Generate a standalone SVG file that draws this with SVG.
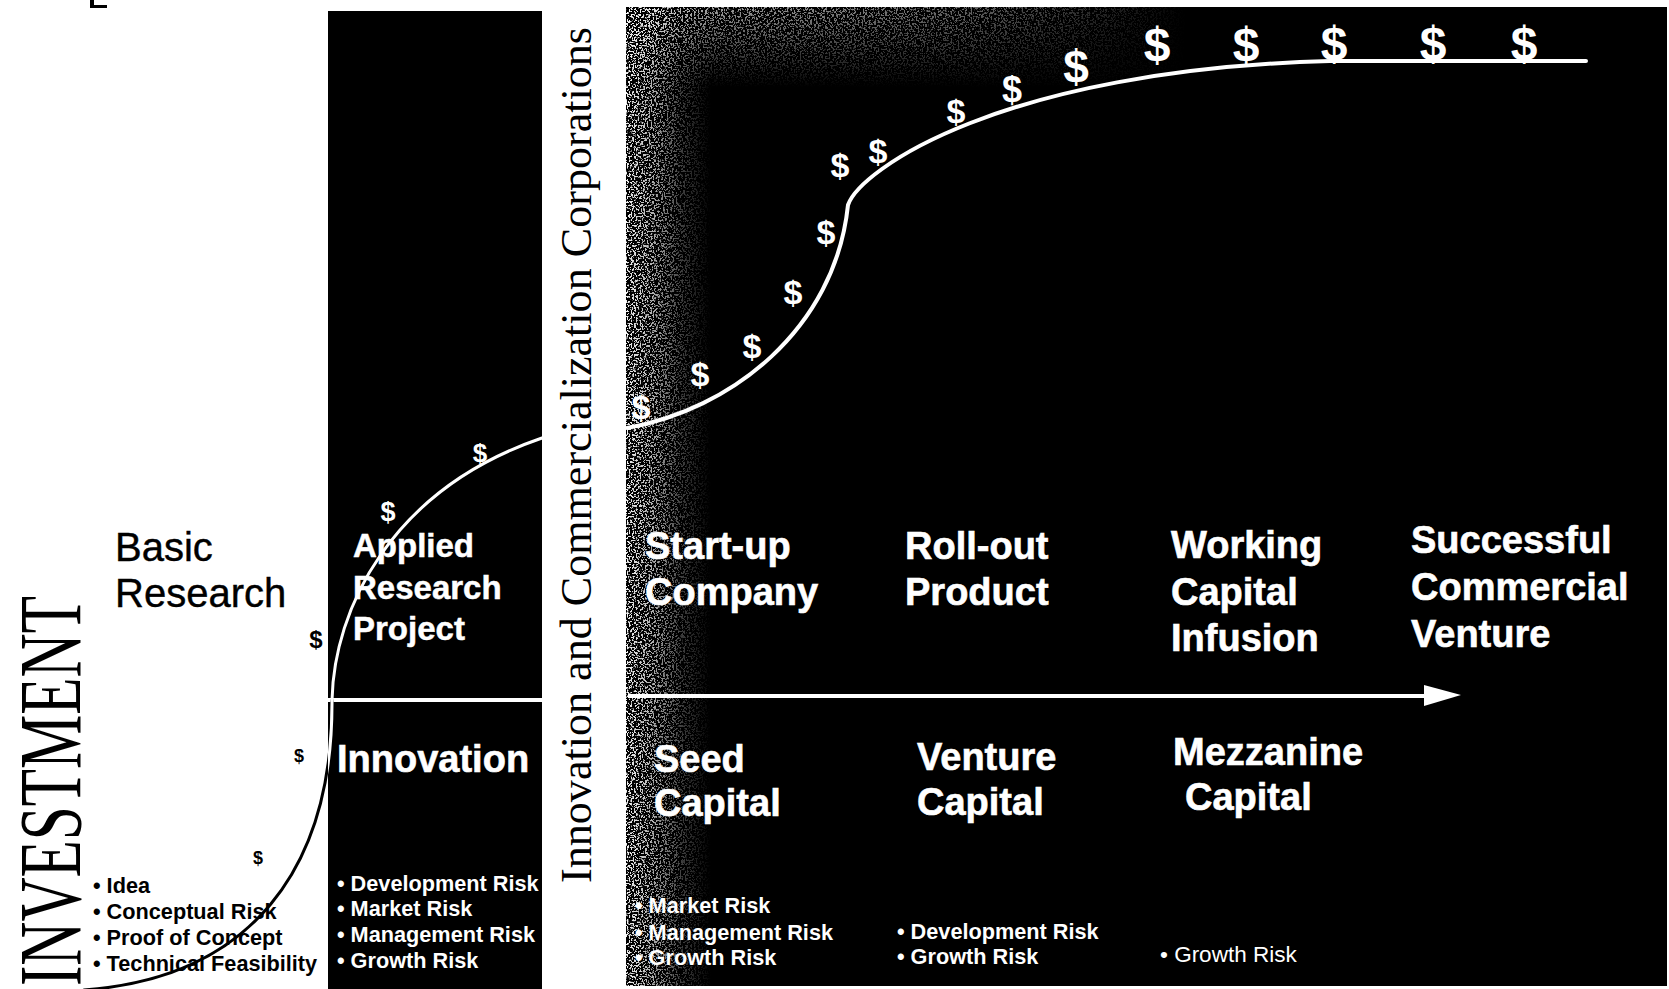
<svg xmlns="http://www.w3.org/2000/svg" width="1669" height="989" viewBox="0 0 1669 989">
<defs>
<style>
text{font-family:"Liberation Sans",Arial,Helvetica,sans-serif}
.serif{font-family:"Liberation Serif","Times New Roman",serif;fill:#000}
.h{font-size:38px;font-weight:bold;fill:#fff;stroke:#fff;stroke-width:0.6}
.hb{font-size:40px;fill:#000;stroke:#000;stroke-width:0.4}
.ap{font-size:33px;font-weight:bold;fill:#fff;stroke:#fff;stroke-width:0.5}
.rw{font-size:21.7px;font-weight:bold;fill:#fff}
.rk{font-size:21.7px;font-weight:bold;fill:#000}
.rr{font-size:22.5px;fill:#fff}
.dw{font-weight:bold;fill:#fff;text-anchor:middle}
.dk{font-weight:bold;fill:#000;text-anchor:middle}
.cw{fill:none;stroke:#fff;stroke-width:4;stroke-linecap:round}
.ck{fill:none;stroke:#000;stroke-width:3;stroke-linecap:round}
</style>
<linearGradient id="gl" x1="0" y1="0" x2="1" y2="0">
<stop offset="0" stop-color="#fff" stop-opacity="0.95"/>
<stop offset="0.3" stop-color="#fff" stop-opacity="0.7"/>
<stop offset="0.65" stop-color="#fff" stop-opacity="0.25"/>
<stop offset="1" stop-color="#fff" stop-opacity="0"/>
</linearGradient>
<linearGradient id="gt" x1="0" y1="0" x2="0" y2="1">
<stop offset="0" stop-color="#fff" stop-opacity="0.7"/>
<stop offset="1" stop-color="#fff" stop-opacity="0"/>
</linearGradient>
<linearGradient id="gh" x1="0" y1="0" x2="1" y2="0">
<stop offset="0" stop-color="#fff" stop-opacity="1"/>
<stop offset="0.6" stop-color="#fff" stop-opacity="0.6"/>
<stop offset="1" stop-color="#fff" stop-opacity="0"/>
</linearGradient>
<mask id="topfade" maskUnits="userSpaceOnUse" x="626" y="7" width="560" height="80">
<rect x="626" y="7" width="560" height="80" fill="url(#gh)"/>
</mask>
<filter id="grain" x="0" y="0" width="1" height="1" color-interpolation-filters="sRGB">
<feTurbulence type="fractalNoise" baseFrequency="0.55" numOctaves="2" seed="4" result="t"/>
<feColorMatrix in="t" type="matrix" values="0 0 0 0 1  0 0 0 0 1  0 0 0 0 1  14 0 0 0 -7.2" result="s"/>
<feComposite in="s" in2="SourceGraphic" operator="in"/>
</filter>
<clipPath id="colclip"><rect x="328" y="11" width="214" height="978"/></clipPath>
</defs>

<rect x="0" y="0" width="1669" height="989" fill="#fff"/>
<path d="M90 0 h4 v5 h13 v3 h-17 z" fill="#000"/>

<g id="axis-label">
<text class="serif" transform="translate(80,986) rotate(-90)" font-size="88" textLength="390" lengthAdjust="spacingAndGlyphs">INVESTMENT</text>
</g>

<g id="basic-research">
<text class="hb" x="115" y="561">Basic</text>
<text class="hb" x="115" y="607">Research</text>
<text class="rk" x="93" y="893">•  Idea</text>
<text class="rk" x="93" y="919">• Conceptual Risk</text>
<text class="rk" x="93" y="945">• Proof of Concept</text>
<text class="rk" x="93" y="971">• Technical Feasibility</text>
</g>

<g id="innovation-column">
<rect x="328" y="11" width="214" height="978" fill="#000"/>
<line x1="328" y1="700" x2="542" y2="700" stroke="#fff" stroke-width="4"/>
<text class="ap" x="353" y="557">Applied</text>
<text class="ap" x="353" y="599">Research</text>
<text class="ap" x="353" y="640">Project</text>
<text class="h" x="337" y="772">Innovation</text>
<text class="rw" x="337" y="891">• Development Risk</text>
<text class="rw" x="337" y="916">• Market Risk</text>
<text class="rw" x="337" y="942">• Management Risk</text>
<text class="rw" x="337" y="968">• Growth Risk</text>
</g>

<g id="corporations-label">
<text class="serif" transform="translate(591,883) rotate(-90)" font-size="45" textLength="856" lengthAdjust="spacingAndGlyphs">Innovation and Commercialization Corporations</text>
</g>

<g id="commercial-region">
<rect x="626" y="7" width="1041" height="979" fill="#000"/>
<rect x="626" y="7" width="85" height="979" fill="url(#gl)" filter="url(#grain)"/>
<rect x="626" y="7" width="560" height="80" fill="url(#gt)" filter="url(#grain)" mask="url(#topfade)"/>
</g>

<g id="stages">
<text class="h" x="645" y="559">Start-up</text>
<text class="h" x="645" y="605">Company</text>
<text class="h" x="905" y="559">Roll-out</text>
<text class="h" x="905" y="605">Product</text>
<text class="h" x="1171" y="558">Working</text>
<text class="h" x="1171" y="605">Capital</text>
<text class="h" x="1171" y="651">Infusion</text>
<text class="h" x="1411" y="553">Successful</text>
<text class="h" x="1411" y="600">Commercial</text>
<text class="h" x="1411" y="647">Venture</text>
</g>

<g id="capital">
<text class="h" x="654" y="772">Seed</text>
<text class="h" x="654" y="816">Capital</text>
<text class="h" x="917" y="770">Venture</text>
<text class="h" x="917" y="815">Capital</text>
<text class="h" x="1173" y="765">Mezzanine</text>
<text class="h" x="1185" y="810">Capital</text>
<text class="rw" x="635" y="913">• Market Risk</text>
<text class="rw" x="635" y="940">• Management Risk</text>
<text class="rw" x="635" y="965">• Growth Risk</text>
<text class="rw" x="897" y="939">• Development Risk</text>
<text class="rw" x="897" y="964">• Growth Risk</text>
<text class="rr" x="1160" y="962">• Growth Risk</text>
</g>

<g id="connectors">
<path class="ck" d="M84 990 C250 978 333 870 332 700"/>
<g clip-path="url(#colclip)">
<path class="cw" style="stroke-width:3" d="M84 990 C250 978 333 870 332 700"/>
</g>
<path class="cw" style="stroke-width:3" d="M332 700 C334 610 390 490 542 438"/>
<path class="cw" d="M627 428 C730 410 835 330 848 205 C860 170 1000 70 1330 61 L1586 61"/>
<line x1="628" y1="696" x2="1428" y2="696" stroke="#fff" stroke-width="4"/>
<polygon points="1424,685 1461,695 1424,706" fill="#fff"/>
</g>

<g id="dollars">
<text class="dk" x="316" y="648" font-size="24">$</text>
<text class="dk" x="299" y="762" font-size="18">$</text>
<text class="dk" x="258" y="864" font-size="18">$</text>
<text class="dw" x="388" y="521" font-size="27">$</text>
<text class="dw" x="480" y="462" font-size="26">$</text>
<text class="dw" x="641" y="419" font-size="34">$</text>
<text class="dw" x="700" y="386" font-size="34">$</text>
<text class="dw" x="752" y="358" font-size="34">$</text>
<text class="dw" x="793" y="304" font-size="34">$</text>
<text class="dw" x="826" y="244" font-size="34">$</text>
<text class="dw" x="840" y="177" font-size="34">$</text>
<text class="dw" x="878" y="163" font-size="34">$</text>
<text class="dw" x="956" y="123" font-size="34">$</text>
<text class="dw" x="1012" y="102" font-size="36">$</text>
<text class="dw" x="1076" y="83" font-size="46">$</text>
<text class="dw" x="1157" y="61" font-size="48">$</text>
<text class="dw" x="1246" y="61" font-size="48">$</text>
<text class="dw" x="1334" y="60" font-size="48">$</text>
<text class="dw" x="1433" y="60" font-size="48">$</text>
<text class="dw" x="1524" y="60" font-size="48">$</text>
</g>
</svg>
